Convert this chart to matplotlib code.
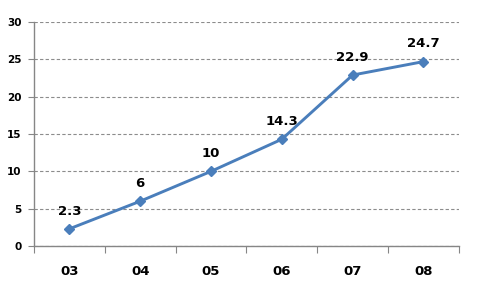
import matplotlib
matplotlib.use("Agg")
import matplotlib.pyplot as plt

# data
years = ["03", "04", "05", "06", "07", "08"]
values = [2.3, 6, 10, 14.3, 22.9, 24.7]
y_ticks = [0, 5, 10, 15, 20, 25, 30]

line_color = "#4a7ebb"
axis_color = "#868686"

fig = plt.figure(figsize=(4.82, 2.9), dpi=100)
ax = fig.add_axes([0.0705, 0.1517, 0.8815, 0.7723])

x = list(range(len(years)))
ax.plot(x, values, color=line_color, linewidth=2.1, marker="D",
        markersize=5.5, zorder=3)

# data labels above the points
for xi, v in zip(x, values):
    ax.annotate(f"{v:g}", (xi, v), xytext=(0, 8), textcoords="offset points",
                ha="center", va="bottom", fontsize=9.5, fontweight="bold")

ax.set_xlim(-0.5, len(years) - 0.5)
ax.set_ylim(0, 30)
ax.set_yticks(y_ticks)
ax.set_yticklabels([str(t) for t in y_ticks], fontsize=7.5, fontweight="bold")

# category labels centred, tick marks between categories
ax.set_xticks([i - 0.5 for i in range(len(years) + 1)])
ax.set_xticklabels([])
ax.set_xticks(x, minor=True)
ax.set_xticklabels(years, minor=True, fontsize=9.5, fontweight="bold")
ax.tick_params(axis="x", which="major", length=5, color=axis_color, direction="out")
ax.tick_params(axis="x", which="minor", length=0, pad=14)
ax.tick_params(axis="y", length=4, color=axis_color, pad=5)

ax.grid(axis="y", linestyle=(0, (3, 2)), color="#8c8c8c", linewidth=0.8)
ax.set_axisbelow(True)

for side in ["top", "right"]:
    ax.spines[side].set_visible(False)
for side in ["left", "bottom"]:
    ax.spines[side].set_color(axis_color)
    ax.spines[side].set_linewidth(1.0)

fig.savefig("out.png", dpi=100)
